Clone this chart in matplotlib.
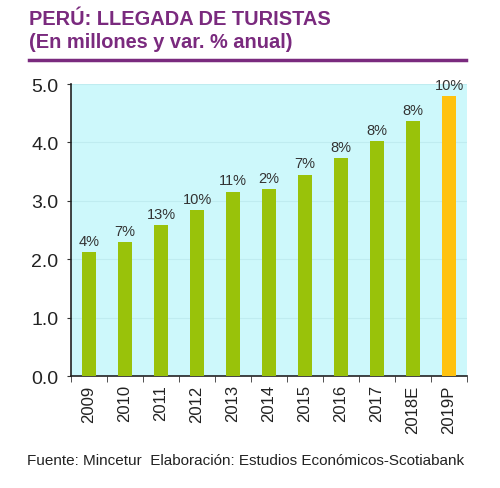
import matplotlib
matplotlib.use("Agg")
import matplotlib.pyplot as plt
import numpy as np

categories = ["2009", "2010", "2011", "2012", "2013", "2014", "2015", "2016", "2017", "2018E", "2019P"]
values = [2.13, 2.29, 2.59, 2.84, 3.16, 3.21, 3.45, 3.74, 4.03, 4.36, 4.80]
labels = ["4%", "7%", "13%", "10%", "11%", "2%", "7%", "8%", "8%", "8%", "10%"]
yticks = [0.0, 1.0, 2.0, 3.0, 4.0, 5.0]

plt.rcParams['font.family'] = ['Liberation Sans', 'DejaVu Sans']

fig = plt.figure(figsize=(5, 4.89), dpi=100)
ax = fig.add_axes([0.142, 0.229, 0.792, 0.597])
ax.set_facecolor("#cdf8fb")

x = np.arange(len(categories))
colors = ["#99c20a"] * (len(categories) - 1) + ["#ffc20e"]
ax.bar(x, values, width=0.4, color=colors, zorder=3)
for xi, v, lab in zip(x, values, labels):
    ax.text(xi, v + 0.07, lab, ha="center", va="bottom", fontsize=10.5, color="#333333", zorder=4)

ax.set_xlim(-0.5, len(categories) - 0.5)
ax.set_ylim(0, 5)
ax.set_yticks(yticks)
ax.set_yticklabels([f"{t:.1f}" for t in yticks], fontsize=14, color="#222222")
ax.set_xticks(x)
ax.set_xticklabels(categories, rotation=90, fontsize=12, color="#222222")
ax.set_xticks(np.arange(-0.5, len(categories), 1), minor=True)
ax.tick_params(axis="x", which="major", length=0, pad=6)
ax.tick_params(axis="x", which="minor", length=4, color="#333333", direction="out")
ax.tick_params(axis="y", length=3, color="#333333", direction="out", pad=6)
ax.grid(axis="y", color="#bfecf0", linewidth=0.8, zorder=0)
for s in ["top", "right"]:
    ax.spines[s].set_visible(False)
ax.spines["left"].set_color("#222222")
ax.spines["bottom"].set_color("#222222")
ax.spines["left"].set_linewidth(1.2)
ax.spines["bottom"].set_linewidth(1.2)

purple = "#7a2a7e"
fig.text(0.058, 0.960, "PERÚ: LLEGADA DE TURISTAS", fontsize=14.4, fontweight="bold", color=purple, va="center", ha="left")
fig.text(0.058, 0.914, "(En millones y var. % anual)", fontsize=14.4, fontweight="bold", color=purple, va="center", ha="left")
fig.add_artist(plt.Line2D([0.058, 0.932], [0.876, 0.876], color=purple, linewidth=2.5, transform=fig.transFigure))

fig.text(0.054, 0.058, "Fuente: Mincetur  Elaboración: Estudios Económicos-Scotiabank", fontsize=11, color="#222222", va="center", ha="left")

fig.savefig("out.png", dpi=100)
